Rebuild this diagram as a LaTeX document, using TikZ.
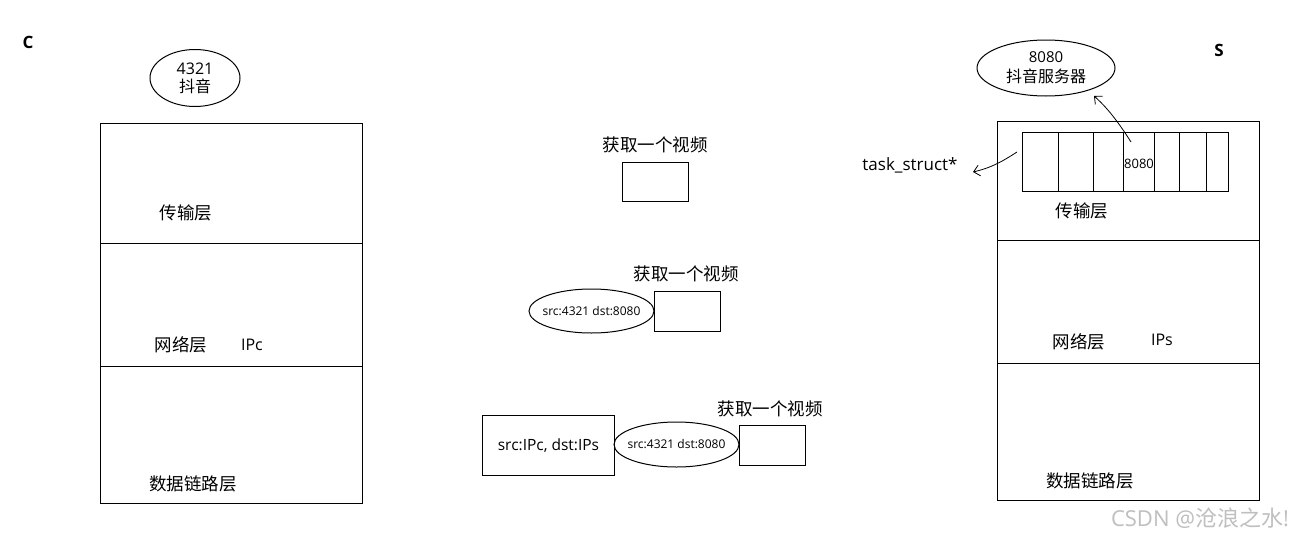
\documentclass[tikz,border=0pt]{standalone}
\usepackage{fontspec}
\setmainfont{Open Sans}
\newfontfamily\cjk{Noto Sans CJK SC}
\usetikzlibrary{shapes.geometric,arrows.meta}
\begin{document}
\begin{tikzpicture}[x=1pt,y=-1pt,
  box/.style={draw,line width=1pt,inner sep=0pt,anchor=north west},
  oval/.style={draw,ellipse,line width=1pt,inner sep=0pt},
  lbl/.style={font=\fontsize{17.5}{20}\selectfont\cjk,inner sep=0pt},
  lat/.style={font=\fontsize{16}{19}\selectfont,inner sep=0pt},
  small/.style={font=\fontsize{12}{14}\selectfont,inner sep=0pt},
  barb/.style={-{Straight Barb[length=6pt,width=11pt]},line width=0.8pt}]
\useasboundingbox[fill=white] (0,0) rectangle (1310,541);

% ---------- client ----------
\node[font=\fontsize{17}{19}\selectfont\bfseries,inner sep=0pt] (C) at (28,42) {C};
\node[oval,minimum width=90pt,minimum height=57pt] (app) at (195,78) {};
\node[align=center,inner sep=0pt,font=\fontsize{16}{18}\selectfont] (apptext) at (app.center) {4321\\{\cjk 抖音}};
\node[box,minimum width=262pt,minimum height=380pt] (cbox) at (100,123) {};
\draw[line width=1pt] (100,243) -- (362,243);
\draw[line width=1pt] (100,366) -- (362,366);
\node[lbl] (ct) at (186,213) {传输层};
\node[lbl] (cn) at (181,345) {网络层};
\node[lat] (cip) at (252,345) {IPc};
\node[lbl] (cd) at (193,484) {数据链路层};

% ---------- middle ----------
\node[lbl] (g1) at (655,145) {获取一个视频};
\node[box,minimum width=66pt,minimum height=39pt] (b1) at (622,162) {};

\node[lbl] (g2) at (686,274) {获取一个视频};
\node[box,minimum width=66pt,minimum height=40pt] (b2) at (654,291) {};
\node[oval,minimum width=125pt,minimum height=44pt] (e2) at (591.5,311) {};
\node[small] (e2text) at (e2.center) {src:4321 dst:8080};

\node[lbl] (g3) at (770,409) {获取一个视频};
\node[box,minimum width=66pt,minimum height=40pt] (b3) at (739,425) {};
\node[oval,minimum width=125pt,minimum height=45pt] (e3) at (676.5,444.5) {};
\node[small] (e3text) at (e3.center) {src:4321 dst:8080};
\node[box,minimum width=132pt,minimum height=60pt] (ipb) at (482,415) {};
\node[font=\fontsize{15.5}{18}\selectfont,inner sep=0pt] (iptext) at (ipb.center) {src:IPc, dst:IPs};

% ---------- server ----------
\node[font=\fontsize{17}{19}\selectfont\bfseries,inner sep=0pt] (S) at (1219,50) {S};
\node[oval,minimum width=138pt,minimum height=56pt] (srv) at (1046,68) {};
\node[align=center,inner sep=0pt,font=\fontsize{15}{20}\selectfont] (srvtext) at (srv.center)
  {8080\\{\cjk\fontsize{16}{20}\selectfont 抖音服务器}};
\node[box,minimum width=262pt,minimum height=379pt] (sbox) at (997,121) {};
\draw[line width=1pt] (997,240) -- (1259,240);
\draw[line width=1pt] (997,363) -- (1259,363);
\node[box,minimum width=206pt,minimum height=59pt] (arr) at (1022,132) {};
\foreach \x in {1058,1093,1123,1154,1179,1206}
  \draw[line width=1pt] (\x,132) -- (\x,191);
\node[font=\fontsize{13}{15}\selectfont,inner sep=0pt] (port) at (1139,164) {8080};
\node[lbl] (st) at (1082,211) {传输层};
\node[lbl] (sn) at (1079,342) {网络层};
\node[lat] (sip) at (1162,340) {IPs};
\node[lbl] (sd) at (1090,481) {数据链路层};
\node[font=\fontsize{17}{19}\selectfont,inner sep=0pt] (task) at (910,165) {task\_struct*};

\coordinate (a1s) at (1017,152);
\coordinate (a1e) at (973,172);
\draw[barb] (a1s) .. controls (1000,163) and (990,168) .. (a1e);
\coordinate (a2s) at (1131,142);
\coordinate (a2e) at (1094,96);
\draw[barb] (a2s) .. controls (1122,128) and (1110,110) .. (a2e);

% watermark
\node[font=\fontsize{22}{24}\selectfont,text=black!25,inner sep=0pt] (wm) at (1200,518) {CSDN @{\cjk 沧浪之水}!};
\end{tikzpicture}
\end{document}
